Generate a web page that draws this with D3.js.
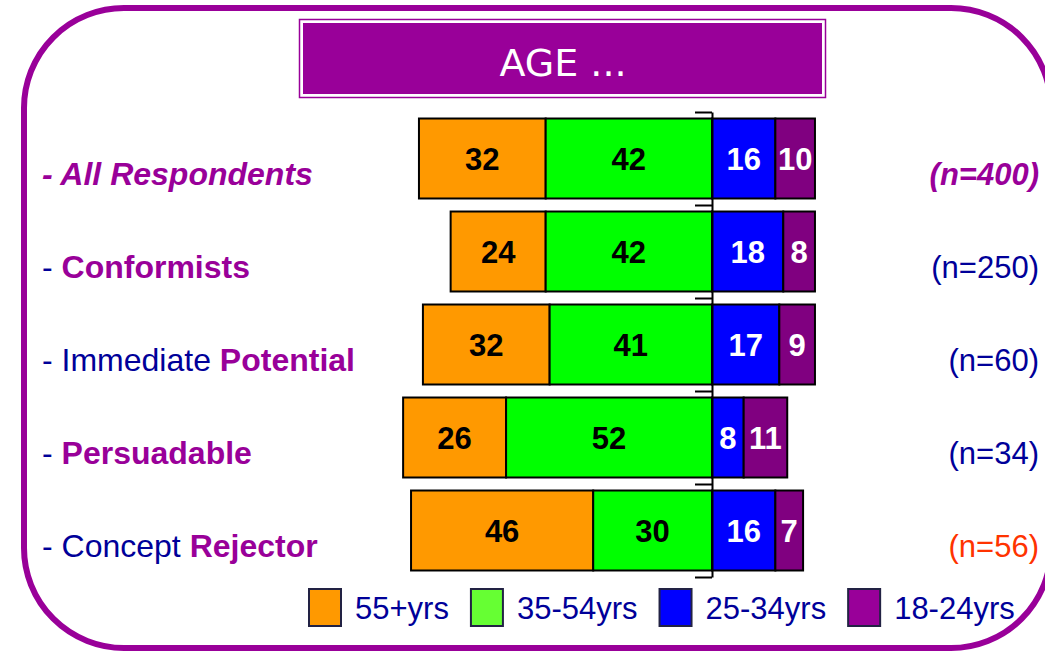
<!DOCTYPE html>
<html>
<head>
<meta charset="utf-8">
<script src="https://cdn.jsdelivr.net/npm/d3@7"></script>
<style>
  body { margin: 0; background: #fff; }
  svg { display: block; font-family: "Liberation Sans", Arial, sans-serif; }
</style>
</head>
<body>
<div id="chart"></div>
<script>
// segments, in order: 55+, 35-54 (left of axis) | 25-34, 18-24 (right of axis)
var categories = ["All Respondents", "Conformists", "Immediate Potential", "Persuadable", "Concept Rejector"];
var plainPart = ["", "", "Immediate ", "", "Concept "];
var boldPart = ["All Respondents", "Conformists", "Potential", "Persuadable", "Rejector"];
var age55plus = [32, 24, 32, 26, 46];
var age35to54 = [42, 42, 41, 52, 30];
var age25to34 = [16, 18, 17, 8, 16];
var age18to24 = [10, 8, 9, 11, 7];
var baseLabels = ["(n=400)", "(n=250)", "(n=60)", "(n=34)", "(n=56)"];
var seriesNames = ["55+yrs", "35-54yrs", "25-34yrs", "18-24yrs"];

var purple = "#990099", navy = "#000099";
var barColors = ["#FF9900", "#00FF00", "#0000FF", "#800080"];
var swatchColors = ["#FF9900", "#66FF33", "#0000FF", "#990099"];
var baseColors = [purple, navy, navy, navy, "#FF3300"];

var W = 1045, H = 653;
var svg = d3.select("#chart").append("svg")
	.attr("width", W)
	.attr("height", H);

// frame
svg.append("rect")
	.attr("x", 24).attr("y", 8)
	.attr("width", 1027).attr("height", 640)
	.attr("rx", 100).attr("ry", 100)
	.style("fill", "none")
	.style("stroke", purple)
	.style("stroke-width", 6);

// title box
svg.append("rect")
	.attr("x", 299.5).attr("y", 19.5)
	.attr("width", 526).attr("height", 78)
	.style("fill", "#fff")
	.style("stroke", purple)
	.style("stroke-width", 1.5);
svg.append("rect")
	.attr("x", 303).attr("y", 23)
	.attr("width", 519).attr("height", 71)
	.style("fill", purple);
svg.append("text")
	.attr("x", 563).attr("y", 76)
	.attr("text-anchor", "middle")
	.style("font-family", "'Comic Sans MS', 'DejaVu Sans', sans-serif")
	.style("font-size", "38px")
	.style("fill", "#fff")
	.text("AGE ...");

// scales
var x = d3.scaleLinear().domain([-80, 40]).range([395.2, 870.4]);
var y = d3.scaleBand().domain(categories).range([112, 577])
	.paddingInner(0.14).paddingOuter(0.07);

// build stacked segments
var segs = [];
categories.forEach(function(c, i) {
	var parts = [
		{v: age55plus[i], x0: -(age55plus[i] + age35to54[i]), k: 0},
		{v: age35to54[i], x0: -age35to54[i], k: 1},
		{v: age25to34[i], x0: 0, k: 2},
		{v: age18to24[i], x0: age25to34[i], k: 3}
	];
	parts.forEach(function(p) { p.cat = c; segs.push(p); });
});

svg.selectAll(".seg")
	.data(segs)
	.enter().append("rect")
	.attr("class", "seg")
	.attr("x", function(d) { return x(d.x0); })
	.attr("y", function(d) { return y(d.cat); })
	.attr("width", function(d) { return x(d.x0 + d.v) - x(d.x0); })
	.attr("height", y.bandwidth())
	.style("fill", function(d) { return barColors[d.k]; })
	.style("stroke", "#000")
	.style("stroke-width", 2);

svg.selectAll(".val")
	.data(segs)
	.enter().append("text")
	.attr("class", "val")
	.attr("x", function(d) { return x(d.x0 + d.v / 2); })
	.attr("y", function(d) { return y(d.cat) + y.bandwidth() / 2 + 11; })
	.attr("text-anchor", "middle")
	.style("font-size", "31px")
	.style("font-weight", "bold")
	.style("fill", function(d) { return d.k < 2 ? "#000" : "#fff"; })
	.text(function(d) { return d.v; });

// centre axis with ticks between bars
var yTick = d3.scaleLinear().domain([0, categories.length]).range(y.range());
svg.append("g")
	.attr("transform", "translate(" + x(0) + ",0)")
	.call(d3.axisLeft(yTick).ticks(categories.length).tickFormat("").tickSize(17).tickSizeOuter(0))
	.call(function(g) {
		g.selectAll("line, path").style("stroke", "#000").style("stroke-width", 2);
	});

// row labels
var lab = svg.selectAll(".lab")
	.data(categories)
	.enter().append("text")
	.attr("class", "lab")
	.attr("x", 42)
	.attr("y", function(d) { return y(d) + y.bandwidth() / 2 + 26; })
	.style("font-size", "32px");

lab.each(function(d, i) {
	var t = d3.select(this);
	if (i == 0) {
		t.append("tspan").style("font-weight", "bold").style("font-style", "italic")
			.style("fill", purple).text("- " + boldPart[i]);
	} else {
		t.append("tspan").style("fill", navy).text("- " + plainPart[i]);
		t.append("tspan").style("fill", purple).style("font-weight", "bold").text(boldPart[i]);
	}
});

// base sizes
svg.selectAll(".base")
	.data(baseLabels)
	.enter().append("text")
	.attr("class", "base")
	.attr("x", 1039)
	.attr("y", function(d, i) { return y(categories[i]) + y.bandwidth() / 2 + 26; })
	.attr("text-anchor", "end")
	.style("font-size", "31px")
	.style("font-weight", function(d, i) { return i == 0 ? "bold" : "normal"; })
	.style("font-style", function(d, i) { return i == 0 ? "italic" : "normal"; })
	.style("fill", function(d, i) { return baseColors[i]; })
	.text(function(d) { return d; });

// legend
var lx = 309;
seriesNames.forEach(function(name, i) {
	svg.append("rect")
		.attr("x", lx).attr("y", 589)
		.attr("width", 32).attr("height", 37)
		.style("fill", swatchColors[i])
		.style("stroke", "#222244")
		.style("stroke-width", 2);
	var t = svg.append("text")
		.attr("x", lx + 46).attr("y", 619)
		.style("font-size", "31px")
		.style("fill", navy)
		.text(name);
	lx += 46 + t.node().getComputedTextLength() + 22;
});
</script>
</body>
</html>
